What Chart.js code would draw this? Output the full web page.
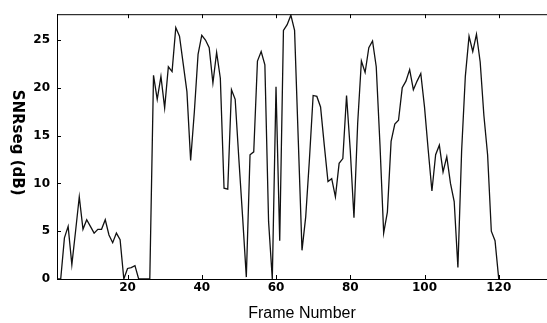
<!DOCTYPE html>
<html>
<head>
<meta charset="utf-8">
<script src="https://cdn.jsdelivr.net/npm/chart.js@4.4.1/dist/chart.umd.min.js"></script>
<style>
  html, body { margin: 0; padding: 0; background: #fff; }
  #wrap { width: 547px; height: 323px; }
</style>
</head>
<body>
<div id="wrap"><canvas id="snrChart"></canvas></div>
<script>
// segmental SNR per frame, frames 1..120
const snrSeg = [
    0, 0, 4.3, 5.5, 1.5, 5.0, 8.6, 5.2, 6.2, 5.5,
    4.8, 5.2, 5.2, 6.2, 4.6, 3.8, 4.8, 4.1, 0, 1.1,
    1.2, 1.4, 0, 0, 0, 0, 21.3, 18.8, 21.2, 17.9,
    22.2, 21.7, 26.3, 25.4, 22.5, 19.6, 12.4, 17.5, 23.5, 25.5,
    25.0, 24.2, 20.5, 23.7, 21.0, 9.5, 9.4, 19.8, 18.8, 12.5,
    6.5, 0.2, 13.0, 13.3, 22.8, 23.8, 22.4, 6.0, 0, 20.1,
    4.0, 26.0, 26.6, 27.6, 26.0, 14.5, 3.0, 6.5, 12.5, 19.2,
    19.1, 18.0, 14.0, 10.2, 10.5, 8.6, 12.1, 12.6, 19.2, 13.5,
    6.4, 16.3, 22.8, 21.6, 24.2, 24.9, 22.2, 14.1, 4.8, 7.0,
    14.4, 16.2, 16.6, 20.0, 20.7, 21.9, 19.8, 20.7, 21.5, 18.0,
    13.5, 9.2, 13.0, 14.0, 11.2, 12.8, 10.0, 8.1, 1.2, 13.4,
    21.2, 25.4, 23.8, 25.6, 22.7, 17.1, 13.0, 5.0, 4.0, 0
];
const frames = snrSeg.map((v, i) => i + 1);

const xTicks = [20, 40, 60, 80, 100, 120];
const yTicks = [0, 5, 10, 15, 20, 25];
const xTitle = 'Frame Number';
const yTitle = 'SNRseg (dB)';

Chart.defaults.font.family = '"DejaVu Sans", sans-serif';
Chart.defaults.color = '#000';

// top edge of the box, small inward ticks, y title turned clockwise
const framePlugin = {
    id: 'frame',
    afterDraw(chart) {
        const {ctx, chartArea: a, scales: {x, y}} = chart;
        ctx.save();
        ctx.strokeStyle = '#000';
        ctx.lineWidth = 1;
        ctx.beginPath();
        ctx.moveTo(a.left, a.top + 0.5);
        ctx.lineTo(a.right, a.top + 0.5);
        xTicks.forEach(v => {
            let px = Math.round(x.getPixelForValue(v)) + 0.5;
            ctx.moveTo(px, a.bottom);
            ctx.lineTo(px, a.bottom - 4);
            ctx.moveTo(px, a.top);
            ctx.lineTo(px, a.top + 4);
        });
        yTicks.forEach(v => {
            let py = Math.round(y.getPixelForValue(v)) + 0.5;
            ctx.moveTo(a.left, py);
            ctx.lineTo(a.left + 4, py);
        });
        ctx.stroke();

        ctx.translate(17, (a.top + a.bottom) / 2 - 4);
        ctx.rotate(Math.PI / 2);
        ctx.fillStyle = '#000';
        ctx.font = 'bold 15px "DejaVu Sans"';
        ctx.textAlign = 'center';
        ctx.textBaseline = 'middle';
        ctx.fillText(yTitle, 0, 0);
        ctx.restore();
    }
};

const data = {
    datasets: [{
            label: yTitle,
            data: frames.map((f, i) => ({x: f, y: snrSeg[i]})),
            borderColor: '#111',
            borderWidth: 1.3,
            pointRadius: 0,
            tension: 0,
            fill: false
        }]
};

const config = {
    type: 'line',
    data: data,
    options: {
        responsive: false,
        animation: false,
        layout: {
            padding: {top: 13, right: 0, left: 0, bottom: 0}
        },
        plugins: {
            legend: {display: false},
            tooltip: {enabled: false}
        },
        scales: {
            x: {
                type: 'linear',
                min: 1,
                max: 133,
                afterFit: s => { s.height = 44; },
                afterBuildTicks: s => { s.ticks = xTicks.map(v => ({value: v})); },
                grid: {display: false, drawTicks: false},
                border: {display: true, color: '#000', width: 1},
                ticks: {
                    padding: 2,
                    maxRotation: 0,
                    font: {size: 12, weight: 'bold'}
                },
                title: {
                    display: true,
                    text: xTitle,
                    font: {family: '"Liberation Sans", Arial, sans-serif', size: 16},
                    padding: {top: 0, bottom: 0}
                }
            },
            y: {
                min: 0,
                max: 27.7,
                afterFit: s => { s.width = 57; },
                afterBuildTicks: s => { s.ticks = yTicks.map(v => ({value: v})); },
                grid: {display: false, drawTicks: false},
                border: {display: true, color: '#000', width: 1},
                ticks: {
                    padding: 7,
                    font: {size: 12, weight: 'bold'}
                }
            }
        }
    },
    plugins: [framePlugin]
};

let canvas = document.getElementById('snrChart');
canvas.width = 547;
canvas.height = 323;
new Chart(canvas.getContext('2d'), config);
</script>
</body>
</html>
